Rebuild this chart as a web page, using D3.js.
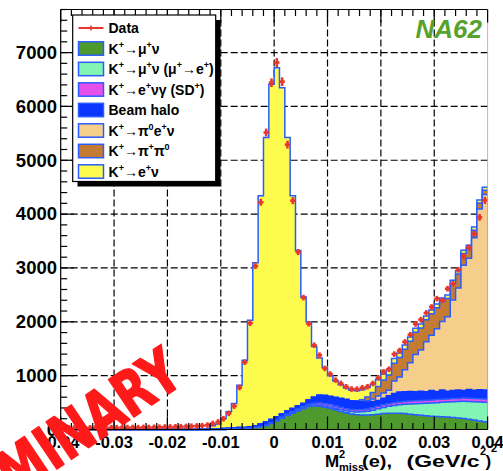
<!DOCTYPE html>
<html><head><meta charset="utf-8">
<script src="https://cdn.jsdelivr.net/npm/d3@7"></script>
<style>body{margin:0;background:#fff;}svg{display:block;}</style>
</head><body>
<svg id="chart" width="503" height="471"></svg>
<script>
// ---------- data (80 bins, -0.04 .. 0.04, width 0.001) ----------
const binLow = -0.04, binWidth = 0.001;
const dataCounts = [28,31,27,33,30,32,29,34,31,35,32,36,34,37,35,39,38,41,43,45,
  47,50,52,56,60,64,70,82,110,140,
  200,300,435,780,1250,1975,3035,4220,5515,6440,
  6815,6460,5290,4250,3295,2450,1965,1565,1380,1135,
  1030,918,855,793,752,750,774,793,855,960,
  1070,1120,1400,1465,1626,1760,1960,2040,2165,2275,
  2430,2398,2615,2707,2967,3213,3378,3633,3940,4255];
const kmunu = [0,0,0,0,0,0,0,0,0,0,0,0,0,0,0,0,0,0,0,0,
  0,0,0,0,0,0,0,0,0,0,
  0,5,8,12,18,25,35,50,70,110,
  160,210,260,300,345,390,425,435,430,415,
  395,365,335,310,290,275,268,268,272,285,
  295,300,302,300,295,285,272,263,255,248,
  242,236,230,224,215,205,190,175,160,145];
const kmunuMuDecay = [0,0,0,0,0,0,0,0,0,0,0,0,0,0,0,0,0,0,0,0,
  0,0,0,0,0,0,0,0,0,0,
  0,0,0,0,0,0,0,0,2,3,
  5,6,8,10,12,14,16,18,20,22,
  25,28,32,36,42,50,60,72,85,100,
  115,130,145,160,175,190,205,220,232,244,
  256,268,280,292,305,318,330,342,352,362];
const kenugSD = [0,0,0,0,0,0,0,0,0,0,0,0,0,0,0,0,0,0,0,0,
  0,0,0,0,0,0,0,0,0,0,
  0,0,0,0,0,0,3,5,8,10,
  12,15,18,20,22,25,30,35,40,42,
  42,42,42,40,40,40,40,42,45,45,
  48,50,50,52,52,55,55,55,55,57,
  57,57,58,58,58,60,60,60,60,60];
const beamHalo = [0,0,0,0,0,0,0,0,0,0,0,0,0,0,0,0,0,0,0,0,
  0,0,0,0,0,0,0,0,10,15,
  20,20,22,23,17,25,32,45,60,62,
  58,59,59,62,61,56,75,112,145,151,
  153,160,166,169,163,153,144,130,118,110,
  122,145,173,183,178,175,168,174,160,173,
  150,171,144,148,157,142,162,151,166,165];
const kpi0enu = [0,0,0,0,0,0,0,0,0,0,0,0,0,0,0,0,0,0,0,0,
  0,0,0,0,0,0,0,0,0,0,
  0,0,0,0,0,0,0,0,0,0,
  0,0,0,0,0,0,0,0,0,0,
  0,0,0,0,0,5,10,20,45,80,
  100,105,230,280,410,535,695,763,928,1028,
  1165,1273,1383,1683,1895,2325,2438,2832,3357,3633];
const kpipi0 = [0,0,0,0,0,0,0,0,0,0,0,0,0,0,0,0,0,0,0,0,
  0,0,0,0,0,0,0,0,0,0,
  0,0,0,0,0,0,0,0,0,0,
  0,0,0,0,0,0,0,0,0,0,
  0,0,0,0,0,10,30,70,120,180,
  240,280,330,360,380,400,410,410,410,400,
  390,370,340,300,260,220,180,140,110,80];
const kenu = [0,0,0,0,0,0,0,0,0,0,0,0,0,0,0,0,0,0,0,0,
  0,0,0,0,0,0,5,15,60,85,
  185,305,455,789,1252,1978,3026,4243,5282,6226,
  6483,6058,5077,3951,2884,1974,1450,940,695,520,
  385,305,255,215,195,187,188,178,150,130,
  110,100,90,85,80,80,75,75,70,70,
  70,65,65,65,60,60,60,60,55,55];

const xTicks = [-0.04,-0.03,-0.02,-0.01,0,0.01,0.02,0.03,0.04];
const xTickLabels = ["-0.04","-0.03","-0.02","-0.01","0","0.01","0.02","0.03","0.04"];
const yTicks = [0,1000,2000,3000,4000,5000,6000,7000];
const yTickLabels = ["0","1000","2000","3000","4000","5000","6000","7000"];

// stack order: bottom -> top
const layers = [
  {name:"K+mu nu", values:kmunu, fill:"#4e9a2e"},
  {name:"K+mu nu decay", values:kmunuMuDecay, fill:"#82f5b4"},
  {name:"K+ e nu gamma SD+", values:kenugSD, fill:"#e650ea"},
  {name:"Beam halo", values:beamHalo, fill:"#0a36ff"},
  {name:"K+ pi0 e nu", values:kpi0enu, fill:"#f6ce8c"},
  {name:"K+ pi+ pi0", values:kpipi0, fill:"#c47c32"},
  {name:"K+ e nu", values:kenu, fill:"#fdfb4e"}
];

const legendEntries = [
  {type:"data", parts:[["Data",""]]},
  {fill:"#4e9a2e", parts:[["K",""],["+","sup"],["\u2192",""],["\u03bc",""],["+","sup"],["\u03bd",""]]},
  {fill:"#82f5b4", parts:[["K",""],["+","sup"],["\u2192",""],["\u03bc",""],["+","sup"],["\u03bd (\u03bc",""],["+","sup"],["\u2192e",""],["+","sup"],[")",""]]},
  {fill:"#e650ea", parts:[["K",""],["+","sup"],["\u2192e",""],["+","sup"],["\u03bd\u03b3 (SD",""],["+","sup"],[")",""]]},
  {fill:"#0a36ff", parts:[["Beam halo",""]]},
  {fill:"#f6ce8c", parts:[["K",""],["+","sup"],["\u2192\u03c0",""],["0","sup"],["e",""],["+","sup"],["\u03bd",""]]},
  {fill:"#c47c32", parts:[["K",""],["+","sup"],["\u2192\u03c0",""],["+","sup"],["\u03c0",""],["0","sup"]]},
  {fill:"#fdfb4e", parts:[["K",""],["+","sup"],["\u2192e",""],["+","sup"],["\u03bd",""]]}
];

// ---------- drawing ----------
const svg = d3.select("#chart");
const FONT = "'Liberation Sans', Arial, Helvetica, sans-serif";
const x = d3.scaleLinear().domain([-0.04, 0.04]).range([60.7, 487.6]);
const y = d3.scaleLinear().domain([0, 7800]).range([429.5, 9.5]);
const nB = dataCounts.length;
const edge = i => x(binLow + i*binWidth);

svg.append("rect").attr("width",503).attr("height",471).attr("fill","#fff");

// grid
const grid = svg.append("g").attr("stroke","#000").attr("stroke-width",1.2).attr("stroke-dasharray","7,3");
xTicks.slice(1,-1).forEach(t=>grid.append("line").attr("x1",x(t)).attr("x2",x(t)).attr("y1",y.range()[1]).attr("y2",y(0)));
yTicks.slice(1).forEach(t=>grid.append("line").attr("x1",x.range()[0]).attr("x2",x.range()[1]).attr("y1",y(t)).attr("y2",y(t)));

// cumulative stacks
const cum = [];
layers.forEach((L,k)=>{ cum.push(L.values.map((v,i)=>v + (k? cum[k-1][i]:0))); });

function stepLine(vals){
  let p = "";
  vals.forEach((v,i)=>{ const yy=y(v); p += (i===0?"M":"L")+edge(i)+","+yy+"L"+edge(i+1)+","+yy; });
  return p;
}
const hist = svg.append("g");
for(let k=layers.length-1;k>=0;k--){
  const vals = cum[k];
  const line = stepLine(vals);
  hist.append("path").attr("d","M"+edge(0)+","+y(0)+line.replace(/^M/,"L")+"L"+edge(nB)+","+y(0)+"Z")
    .attr("fill",layers[k].fill).attr("stroke","none");
  hist.append("path").attr("d",line).attr("fill","none").attr("stroke", k===3?"#0a36ff":"#2a5cff").attr("stroke-width",1.5);
}

// data points
const red = "#e8372c";
const dg = svg.append("g").attr("stroke",red);
dataCounts.forEach((n,i)=>{
  const cx = x(binLow + (i+0.5)*binWidth), cy = y(n);
  const e = Math.max(Math.sqrt(n), 52);
  dg.append("line").attr("x1",edge(i)).attr("x2",edge(i+1)).attr("y1",cy).attr("y2",cy).attr("stroke-width",2.6);
  dg.append("line").attr("x1",cx).attr("x2",cx).attr("y1",y(n+e)).attr("y2",y(n-e)).attr("stroke-width",2.6);
});

// frame & ticks
const ax = svg.append("g").attr("stroke","#000").attr("stroke-width",1.2);
ax.append("line").attr("x1",x.range()[0]).attr("x2",x.range()[1]).attr("y1",y(0)).attr("y2",y(0));
ax.append("line").attr("x1",x.range()[0]).attr("x2",x.range()[1]).attr("y1",y.range()[1]).attr("y2",y.range()[1]);
ax.append("line").attr("x1",x.range()[0]).attr("x2",x.range()[0]).attr("y1",y(0)).attr("y2",y.range()[1]);
ax.append("line").attr("x1",x.range()[1]).attr("x2",x.range()[1]).attr("y1",y(0)).attr("y2",y.range()[1]).attr("stroke","#e88").attr("stroke-width",0.8);
const xMinor = d3.range(0,41).map(i=>-0.04+i*0.002);
xMinor.forEach((t,i)=>{
  const len = (i%5===0)?13:6.5;
  ax.append("line").attr("x1",x(t)).attr("x2",x(t)).attr("y1",y(0)).attr("y2",y(0)-len);
  ax.append("line").attr("x1",x(t)).attr("x2",x(t)).attr("y1",y.range()[1]).attr("y2",y.range()[1]+len);
});
d3.range(0,40).map(i=>i*200).forEach((t,i)=>{
  const len = (i%5===0)?13:6.5;
  ax.append("line").attr("x1",x.range()[0]).attr("x2",x.range()[0]+len).attr("y1",y(t)).attr("y2",y(t));
});

// tick labels
const tl = svg.append("g").attr("font-family",FONT).attr("font-weight","bold").attr("fill","#000");
xTicks.forEach((t,i)=>tl.append("text").attr("x",x(t)).attr("y",448).attr("text-anchor","middle").attr("font-size",16.5).text(xTickLabels[i]));
yTicks.forEach((t,i)=>tl.append("text").attr("x",57).attr("y",y(t)+6.3).attr("text-anchor","end").attr("font-size",18.5).text(yTickLabels[i]));

// x axis title
const tt = svg.append("g").attr("font-family",FONT).attr("font-weight","bold").attr("fill","#000");
tt.append("text").attr("x",325).attr("y",466.5).attr("font-size",17).text("M");
tt.append("text").attr("x",339).attr("y",458).attr("font-size",11).text("2");
tt.append("text").attr("x",339).attr("y",471).attr("font-size",11).text("miss");
tt.append("text").attr("x",362).attr("y",466.5).attr("font-size",17).attr("textLength",30).attr("lengthAdjust","spacingAndGlyphs").text("(e),");
tt.append("text").attr("x",406.5).attr("y",466.5).attr("font-size",17).attr("textLength",73).attr("lengthAdjust","spacingAndGlyphs").text("(GeV/c");
tt.append("text").attr("x",480).attr("y",455).attr("font-size",11).text("2");
tt.append("text").attr("x",485.5).attr("y",466.5).attr("font-size",17).text(")");
tt.append("text").attr("x",491).attr("y",452).attr("font-size",11).text("2");

// legend
const lg = svg.append("g");
lg.append("rect").attr("x",77.5).attr("y",20).attr("width",143).attr("height",166.5).attr("fill","#000");
lg.append("rect").attr("x",72.7).attr("y",15).attr("width",143).attr("height",166.5).attr("fill","#fff").attr("stroke","#000").attr("stroke-width",1.2);
legendEntries.forEach((d,i)=>{
  const cy = 28 + i*20.5;
  if(d.type==="data"){
    lg.append("line").attr("x1",78.5).attr("x2",103.5).attr("y1",cy).attr("y2",cy).attr("stroke",red).attr("stroke-width",2);
    lg.append("line").attr("x1",91).attr("x2",91).attr("y1",cy-2.5).attr("y2",cy+2.5).attr("stroke",red).attr("stroke-width",1.5);
  } else {
    lg.append("rect").attr("x",78.5).attr("y",cy-6.7).attr("width",25).attr("height",13.4).attr("fill",d.fill).attr("stroke","#2a5cff").attr("stroke-width",1.5);
  }
  const t = lg.append("text").attr("x",108.5).attr("y",cy+5).attr("font-family",FONT).attr("font-weight","bold").attr("font-size",14).attr("fill","#000");
  let shifted = false;
  d.parts.forEach(([s,kind])=>{
    const ts = t.append("tspan").text(s);
    if(kind==="sup"){ ts.attr("font-size",9).attr("dy",-5.8); shifted=true; }
    else if(shifted){ ts.attr("dy",5.8); shifted=false; }
  });
});

// NA62 label
svg.append("text").attr("x",482).attr("y",37.5).attr("text-anchor","end").attr("font-family",FONT)
  .attr("font-weight","bold").attr("font-style","italic").attr("font-size",26).attr("fill","#57a22d").text("NA62");

// PRELIMINARY watermark
svg.append("text").attr("transform","translate(186,382) rotate(-34) scale(0.84,1)").attr("text-anchor","end")
  .attr("font-family","'DejaVu Sans Condensed', 'DejaVu Sans', sans-serif").attr("font-weight","bold").attr("font-size",62)
  .attr("fill","#ff1a1a").attr("stroke","#ff1a1a").attr("stroke-width",1.5).attr("stroke-linejoin","round").text("PRELIMINARY");
</script>
</body></html>
